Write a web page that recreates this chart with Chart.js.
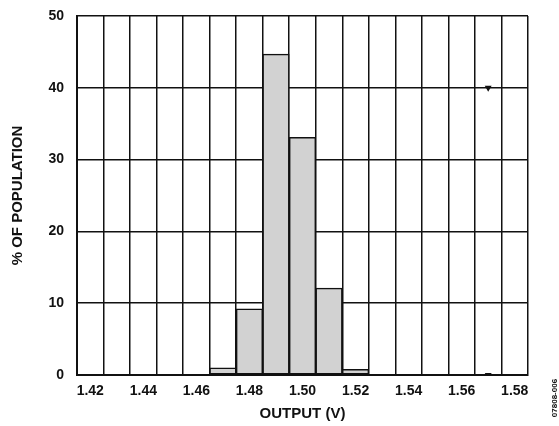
<!DOCTYPE html>
<html>
<head>
<meta charset="utf-8">
<script src="https://cdn.jsdelivr.net/npm/chart.js@4.4.1/dist/chart.umd.min.js"></script>
<style>
  html, body { margin: 0; padding: 0; background: #ffffff; }
  #wrap { width: 559px; height: 426px; }
</style>
</head>
<body>
<div id="wrap"><canvas id="c" width="559" height="426"></canvas></div>
<script>
// Histogram bins (output voltage, V)
const categories = ['1.42','1.43','1.44','1.45','1.46','1.47','1.48','1.49','1.50','1.51','1.52','1.53','1.54','1.55','1.56','1.57','1.58'];
// % of population in each bin
const populationPct = [0, 0, 0, 0, 0, 1.0, 9.2, 44.7, 33.1, 12.1, 0.8, 0, 0, 0, 0, 0, 0];
// small marker artifacts seen in the figure
const markerPoints = [{x: '1.57', y: 40}, {x: '1.57', y: 0}];
// labelled x ticks
const xTickLabels = ['1.42','1.44','1.46','1.48','1.50','1.52','1.54','1.56','1.58'];
const yTicks = [0, 10, 20, 30, 40, 50];

const FONT = '"Liberation Sans", Arial, Helvetica, sans-serif';

const figureId = {
  id: 'figureId',
  afterDraw(chart) {
    const ctx = chart.ctx;
    ctx.save();
    ctx.translate(555, 398);
    ctx.rotate(-Math.PI / 2);
    ctx.font = 'bold 8px ' + FONT;
    ctx.fillStyle = '#111';
    ctx.textAlign = 'center';
    ctx.textBaseline = 'middle';
    ctx.fillText('07808-006', 0, 0);
    ctx.restore();
  }
};

new Chart(document.getElementById('c'), {
  type: 'bar',
  data: {
    labels: categories,
    datasets: [
      {
        data: populationPct,
        backgroundColor: '#d2d2d2',
        borderColor: '#111111',
        borderWidth: 1.5,
        borderSkipped: false,
        barPercentage: 1.0,
        categoryPercentage: 1.0
      },
      {
        type: 'line',
        data: markerPoints,
        showLine: false,
        pointStyle: 'triangle',
        rotation: 180,
        pointRadius: 4,
        backgroundColor: '#111',
        borderColor: '#111',
        borderWidth: 0
      }
    ]
  },
  options: {
    responsive: false,
    animation: false,
    devicePixelRatio: 1,
    layout: { padding: { top: 16, right: 31, left: 0, bottom: 0 } },
    plugins: { legend: { display: false }, tooltip: { enabled: false } },
    scales: {
      x: {
        type: 'category',
        offset: true,
        grid: { color: '#111', lineWidth: 1.5, drawTicks: false, offset: true },
        border: { color: '#111', width: 2 },
        ticks: {
          autoSkip: false,
          maxRotation: 0,
          padding: 8,
          color: '#111',
          font: { family: FONT, size: 14, weight: 'bold' },
          callback: function (v, i) {
            const l = categories[i];
            return xTickLabels.includes(l) ? l : '';
          }
        },
        title: {
          display: true,
          text: 'OUTPUT (V)',
          color: '#111',
          font: { family: FONT, size: 15, weight: 'bold' },
          padding: { top: 4, bottom: 3 }
        },
        afterFit: function (s) { s.height = 51; s.paddingLeft = 0; s.paddingRight = 0; }
      },
      y: {
        min: 0,
        max: 50,
        grid: { color: '#111', lineWidth: 1.5, drawTicks: false },
        border: { color: '#111', width: 2 },
        afterBuildTicks: function (s) { s.ticks = yTicks.map(v => ({ value: v })); },
        ticks: {
          padding: 13,
          color: '#111',
          font: { family: FONT, size: 14, weight: 'bold' }
        },
        title: {
          display: true,
          text: '% OF POPULATION',
          color: '#111',
          font: { family: FONT, size: 15, weight: 'bold' },
          padding: { top: 9, bottom: 4 }
        },
        afterFit: function (s) { s.width = 77; s.paddingTop = 0; s.paddingBottom = 0; }
      }
    }
  },
  plugins: [figureId]
});
</script>
</body>
</html>
